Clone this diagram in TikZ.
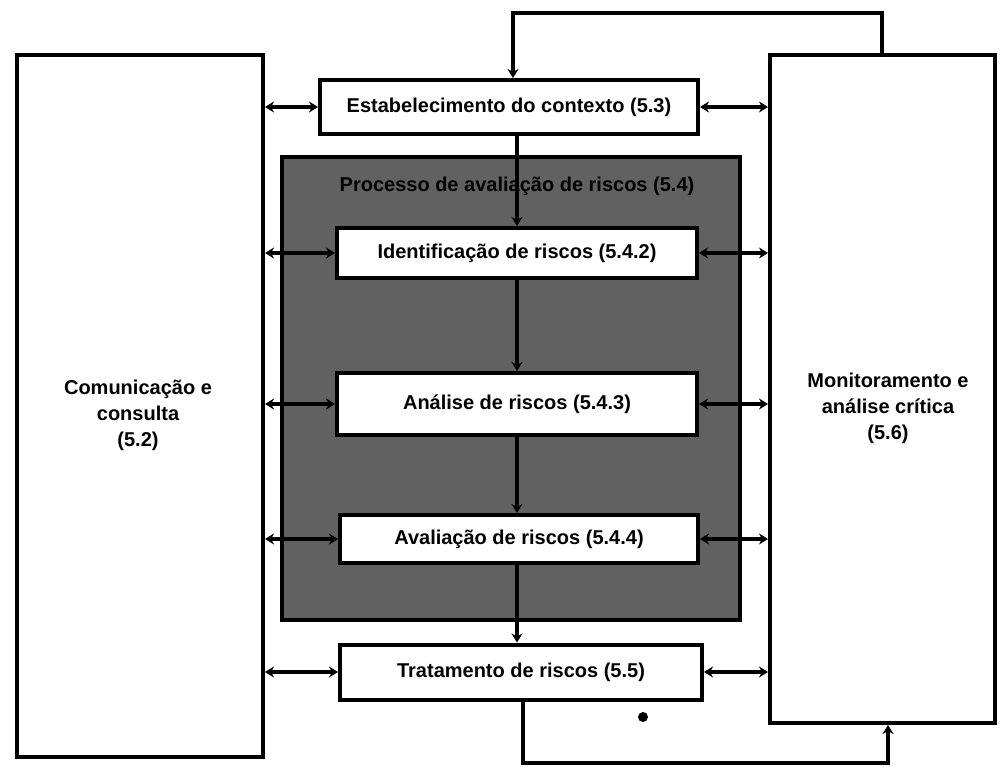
\documentclass[tikz,border=0pt]{standalone}
\usepackage{fontspec}
\setmainfont{Liberation Sans}
\usetikzlibrary{arrows.meta,calc}
\begin{document}
\begin{tikzpicture}[x=1pt,y=-1pt,
  box/.style={draw=black,line width=4pt,fill=white,inner sep=0pt,
    font=\fontsize{20}{24}\selectfont\bfseries,align=center},
  txt/.style={inner sep=0pt,font=\fontsize{20}{26}\selectfont\bfseries,align=center},
  link/.style={line width=3.5pt,{Stealth[length=9pt,width=11pt]}-{Stealth[length=9pt,width=11pt]}},
  flow/.style={line width=3.5pt,-{Stealth[length=9pt,width=11pt]}},
  loop/.style={line width=4pt,line join=miter,-{Stealth[length=9pt,width=11pt]}}]
\useasboundingbox (0,0) rectangle (1006,767);
\fill[white] (0,0) rectangle (1006,767);

% side boxes
\node[box,minimum width=246pt,minimum height=702pt] (comm) at (140,406) {};
\node[txt] (commtext) at (138,415) {Comunicação e\\consulta\\(5.2)};
\node[box,minimum width=225pt,minimum height=668pt] (mon) at (882.5,389) {};
\node[txt] (montext) at (888,408) {Monitoramento e\\análise crítica\\(5.6)};

% context
\node[box,minimum width=378pt,minimum height=54pt] (estab) at (509,107) {Estabelecimento do contexto (5.3)};

% risk assessment frame
\node[draw=black,line width=4pt,fill=black!62,minimum width=458pt,minimum height=463pt,inner sep=0pt] (frame) at (511,388.5) {};
\node[txt] (header) at (517,186) {Processo de avaliação de riscos (5.4)};

\node[box,minimum width=360pt,minimum height=50pt] (ident) at (517,253) {Identificação de riscos (5.4.2)};
\node[box,minimum width=360pt,minimum height=62pt] (anal) at (517,404) {Análise de riscos (5.4.3)};
\node[box,minimum width=358pt,minimum height=48pt] (aval) at (519,539) {Avaliação de riscos (5.4.4)};
\node[box,minimum width=362pt,minimum height=55pt] (trat) at (521,672) {Tratamento de riscos (5.5)};

% central flow
\draw[flow] (estab.south -| ident) -- (ident.north);
\draw[flow] (ident.south) -- (anal.north);
\draw[flow] (anal.south) -- (anal.south |- aval.north);
\draw[flow] (aval.south -| ident) -- (trat.north -| ident);

% links to side boxes
\foreach \n in {estab,ident,anal,aval,trat}{
  \draw[link] (comm.east |- \n) -- (\n.west);
  \draw[link] (\n.east) -- (mon.west |- \n);
}

% feedback loops
\coordinate (tl) at (513,13);
\coordinate (tr) at (882,13);
\draw[loop] (tr |- mon.north) -- (tr) -- (tl) -- (tl |- estab.north);
\coordinate (bl) at (523,763);
\coordinate (br) at (888,763);
\draw[loop] (bl |- trat.south) -- (bl) -- (br) -- (br |- mon.south);

% scan speck
\fill (643,717) circle (5);
\end{tikzpicture}
\end{document}
